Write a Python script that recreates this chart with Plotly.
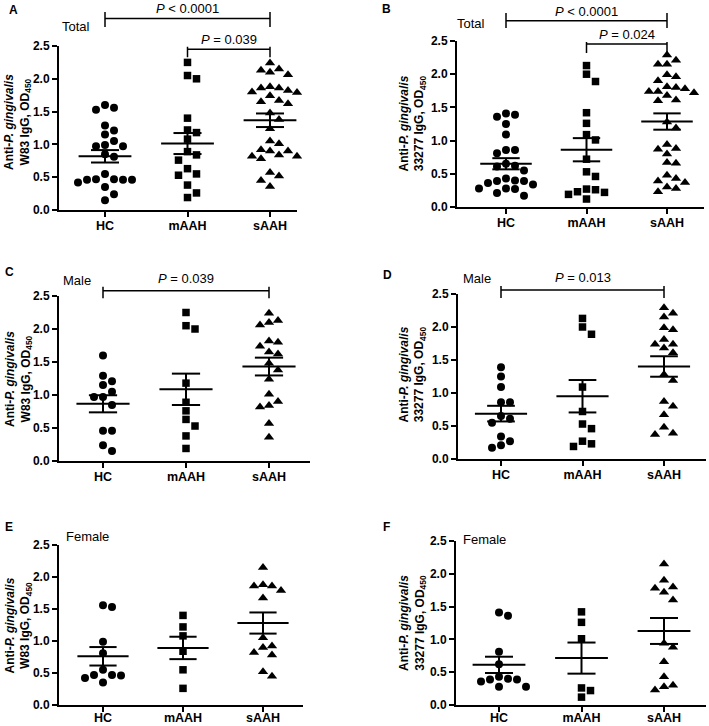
import numpy as np
import plotly.graph_objects as go

# ---------------- data ----------------
groups = ["HC", "mAAH", "sAAH"]

# Panel A: W83, total
a_hc = [1.60, 1.56, 1.53, 1.29, 1.21, 1.15, 1.05, 0.99, 0.97, 0.97, 0.85,
        0.81, 0.55, 0.47, 0.47, 0.46, 0.46, 0.46, 0.42, 0.35, 0.24, 0.15]
a_maah = [2.25, 2.05, 2.00, 1.40, 1.22, 1.18, 1.08, 0.89, 0.84, 0.76, 0.63,
          0.55, 0.53, 0.38, 0.26, 0.19]
a_saah = [2.24, 2.15, 2.13, 2.10, 2.06, 1.88, 1.86, 1.86, 1.82, 1.80, 1.79,
          1.74, 1.67, 1.65, 1.62, 1.48, 1.38, 1.24, 1.05, 1.01, 0.92, 0.90,
          0.90, 0.84, 0.82, 0.82, 0.78, 0.57, 0.52, 0.45, 0.36]

# Panel B: 33277, total
b_hc = [1.41, 1.39, 1.36, 1.25, 1.09, 0.86, 0.86, 0.81, 0.65, 0.62, 0.61,
        0.55, 0.43, 0.40, 0.39, 0.39, 0.36, 0.34, 0.28, 0.28, 0.27, 0.21, 0.17]
b_maah = [2.13, 2.00, 1.89, 1.42, 1.26, 1.09, 1.01, 0.72, 0.53, 0.46, 0.27,
          0.26, 0.23, 0.22, 0.19, 0.12]
b_saah = [2.29, 2.21, 2.15, 2.15, 1.99, 1.96, 1.90, 1.81, 1.80, 1.78, 1.74,
          1.74, 1.72, 1.68, 1.61, 1.60, 1.28, 1.19, 0.94, 0.88, 0.87, 0.80,
          0.67, 0.66, 0.48, 0.43, 0.39, 0.37, 0.30, 0.28, 0.23]

# Panel C: W83, male
c_hc = [1.60, 1.29, 1.21, 1.15, 1.05, 0.97, 0.97, 0.85, 0.46, 0.46, 0.24, 0.15]
c_maah = [2.25, 2.05, 2.00, 1.18, 0.89, 0.76, 0.63, 0.53, 0.38, 0.19]
c_saah = [2.24, 2.13, 2.10, 2.06, 1.82, 1.80, 1.74, 1.65, 1.62, 1.48, 1.38,
          1.24, 1.01, 0.90, 0.84, 0.82, 0.57, 0.36]

# Panel D: 33277, male
d_hc = [1.39, 1.25, 1.09, 0.86, 0.86, 0.65, 0.61, 0.55, 0.34, 0.27, 0.21, 0.17]
d_maah = [2.13, 2.00, 1.89, 1.09, 0.72, 0.53, 0.46, 0.27, 0.23, 0.19]
d_saah = [2.29, 2.21, 2.15, 1.99, 1.96, 1.81, 1.74, 1.74, 1.68, 1.61, 1.28,
          1.19, 0.87, 0.80, 0.67, 0.48, 0.39, 0.37]

# Panel E: W83, female
e_hc = [1.56, 1.53, 0.99, 0.81, 0.55, 0.47, 0.47, 0.46, 0.42, 0.35]
e_maah = [1.40, 1.22, 1.08, 0.84, 0.55, 0.26]
e_saah = [2.15, 1.88, 1.86, 1.86, 1.79, 1.67, 1.05, 0.92, 0.90, 0.82, 0.78,
          0.52, 0.45]

# Panel F: 33277, female
f_hc = [1.41, 1.36, 0.81, 0.62, 0.43, 0.40, 0.39, 0.39, 0.36, 0.28, 0.28]
f_maah = [1.42, 1.26, 1.01, 0.26, 0.22, 0.12]
f_saah = [2.15, 1.90, 1.80, 1.78, 1.72, 1.60, 0.94, 0.88, 0.66, 0.43, 0.30,
          0.28, 0.23]

y_ticks = [0.0, 0.5, 1.0, 1.5, 2.0, 2.5]
y_tick_labels = ["0.0", "0.5", "1.0", "1.5", "2.0", "2.5"]

strain = {"A": "W83", "B": "33277", "C": "W83", "D": "33277", "E": "W83", "F": "33277"}
subset = {"A": "Total", "B": "Total", "C": "Male", "D": "Male", "E": "Female", "F": "Female"}
comparisons = {
    "A": [(0, 2, "<i>P</i> < 0.0001"), (1, 2, "<i>P</i> = 0.039")],
    "B": [(0, 2, "<i>P</i> < 0.0001"), (1, 2, "<i>P</i> = 0.024")],
    "C": [(0, 2, "<i>P</i> = 0.039")],
    "D": [(0, 2, "<i>P</i> = 0.013")],
    "E": [],
    "F": [],
}
panel_data = {
    "A": [a_hc, a_maah, a_saah], "B": [b_hc, b_maah, b_saah],
    "C": [c_hc, c_maah, c_saah], "D": [d_hc, d_maah, d_saah],
    "E": [e_hc, e_maah, e_saah], "F": [f_hc, f_maah, f_saah],
}

# ---------------- layout geometry (pixels) ----------------
W, H = 709, 726
FONT = "Arial, 'Liberation Sans', sans-serif"
geom = {
    # left, right, y0 px, y2.5 px, HC px, category spacing px
    "A": dict(l=59, r=297, y0=210, y1=46, hc=105, sp=82.5, so=-2,
              letter=(13, 10), sub=(76, 27), title=(17, 122),
              brk=[(18.5, 12, 27, 8), (49.3, 46.7, 57.3, 39.5)]),
    "B": dict(l=457, r=704, y0=207, y1=41, hc=506, sp=80.5, so=-2,
              letter=(386, 9), sub=(471, 23), title=(412.5, 124),
              brk=[(20.7, 13, 28, 11.5), (44, 42, 53, 35)]),
    "C": dict(l=59, r=310, y0=461, y1=296, hc=103, sp=83, so=-2,
              letter=(9, 272), sub=(77, 280), title=(18, 379),
              brk=[(290.7, 286.7, 298.3, 279)]),
    "D": dict(l=458, r=706, y0=459, y1=294, hc=501, sp=81.5, so=-2,
              letter=(387, 275), sub=(477, 278), title=(412.5, 375),
              brk=[(290, 286, 298, 277)]),
    "E": dict(l=59, r=303, y0=705, y1=545, hc=103, sp=80, so=-5,
              letter=(9, 527), sub=(87, 536), title=(17.5, 626),
              brk=[]),
    "F": dict(l=456, r=706, y0=705, y1=541, hc=499, sp=82.5, so=-5,
              letter=(386, 527), sub=(484, 539), title=(412, 623),
              brk=[]),
}
symbols = ["circle", "square", "triangle-up"]
sizes = [8, 7.5, 9]


def px(x):
    return x / W


def py(y):
    return 1 - y / H


def swarm(vals, ppu_y, step):
    placed, offs = [], []
    cands = [0.0]
    for i in range(1, 30):
        cands += [i * step, -i * step]
    for v in vals:
        yv = v * ppu_y
        chosen = cands[-1]
        for c in cands:
            if all((c - a) ** 2 + (yv - b) ** 2 >= (step * 0.95) ** 2 for a, b in placed):
                chosen = c
                break
        placed.append((chosen, yv))
        offs.append(chosen)
    return offs


fig = go.Figure()
annotations = []
shapes = []

for k, name in enumerate(["A", "B", "C", "D", "E", "F"], start=1):
    g = geom[name]
    xa = "x" if k == 1 else f"x{k}"
    ya = "y" if k == 1 else f"y{k}"
    ppu_y = (g["y0"] - g["y1"]) / 2.5
    for gi, vals in enumerate(panel_data[name]):
        offs = swarm(vals, ppu_y, 9.0)
        xs = [gi + o / g["sp"] for o in offs]
        fig.add_trace(go.Scatter(
            x=xs, y=vals, mode="markers", xaxis=xa, yaxis=ya,
            marker=dict(symbol=symbols[gi], size=sizes[gi], color="black",
                        line=dict(width=0)),
            showlegend=False, cliponaxis=False, hoverinfo="y"))
        arr = np.array(vals)
        m = arr.mean()
        se = arr.std(ddof=1) / np.sqrt(len(arr))
        hw, cw = 0.32, 0.17
        lx = [gi - hw, gi + hw, None, gi - cw, gi + cw, None,
              gi - cw, gi + cw, None, gi, gi]
        ly = [m, m, None, m + se, m + se, None, m - se, m - se, None, m - se, m + se]
        fig.add_trace(go.Scatter(
            x=lx, y=ly, mode="lines", xaxis=xa, yaxis=ya,
            line=dict(color="black", width=2), showlegend=False,
            cliponaxis=False, hoverinfo="skip"))

    xr = [(g["l"] - g["hc"]) / g["sp"], (g["r"] - g["hc"]) / g["sp"]]
    axis_common = dict(showline=True, linewidth=2, linecolor="black",
                       ticks="outside", ticklen=5, tickwidth=2, tickcolor="black",
                       showgrid=False, zeroline=False, fixedrange=True,
                       automargin=False)
    fig.layout[f"xaxis{'' if k == 1 else k}"] = dict(
        domain=[px(g["l"]), px(g["r"])], range=xr, anchor=ya,
        tickvals=[0, 1, 2], ticktext=[f"<b>{t}</b>" for t in groups],
        ticklabelstandoff=g["so"],
        tickfont=dict(family=FONT, size=12.5, color="black"), **axis_common)
    fig.layout[f"yaxis{'' if k == 1 else k}"] = dict(
        domain=[py(g["y0"]), py(g["y1"])], range=[0, 2.5], anchor=xa,
        tickvals=y_ticks, ticktext=[f"<b>{t}</b>" for t in y_tick_labels],
        tickfont=dict(family=FONT, size=12, color="black"), **axis_common)

    # panel letter
    annotations.append(dict(x=px(g["letter"][0]), y=py(g["letter"][1]), xref="paper", yref="paper",
                            text=f"<b>{name}</b>", showarrow=False, xanchor="center", yanchor="middle",
                            font=dict(family=FONT, size=12, color="black")))
    # subset label
    annotations.append(dict(x=px(g["sub"][0]), y=py(g["sub"][1]), xref="paper", yref="paper",
                            text=subset[name], showarrow=False, xanchor="center", yanchor="middle",
                            font=dict(family=FONT, size=13, color="black")))
    # y title
    annotations.append(dict(x=px(g["title"][0]), y=py(g["title"][1]), xref="paper", yref="paper",
                            text=f"<b>Anti-<i>P. gingivalis</i><br>{strain[name]} IgG, OD<sub>450</sub></b>",
                            showarrow=False, xanchor="center", yanchor="middle", textangle=-90,
                            font=dict(family=FONT, size=12, color="black")))
    # significance brackets
    for (i, j, label), (ym, yt, yb, ytxt) in zip(comparisons[name], g["brk"]):
        path = (f"M {i},{py(yt)} L {i},{py(yb)} M {i},{py(ym)} L {j},{py(ym)} "
                f"M {j},{py(yt)} L {j},{py(yb)}")
        shapes.append(dict(type="path", path=path, xref=xa, yref="paper",
                           line=dict(color="black", width=1.5)))
        annotations.append(dict(x=(i + j) / 2, y=py(ytxt), xref=xa, yref="paper",
                                text=label, showarrow=False, xanchor="center", yanchor="middle",
                                font=dict(family=FONT, size=13, color="black")))

fig.update_layout(width=W, height=H, margin=dict(l=0, r=0, t=0, b=0),
                  paper_bgcolor="white", plot_bgcolor="white",
                  annotations=annotations, shapes=shapes,
                  font=dict(family=FONT, color="black"))

fig.write_html("out.html", config={"displayModeBar": False},
               post_script="document.body.style.margin='0px';document.body.style.overflow='hidden';")
